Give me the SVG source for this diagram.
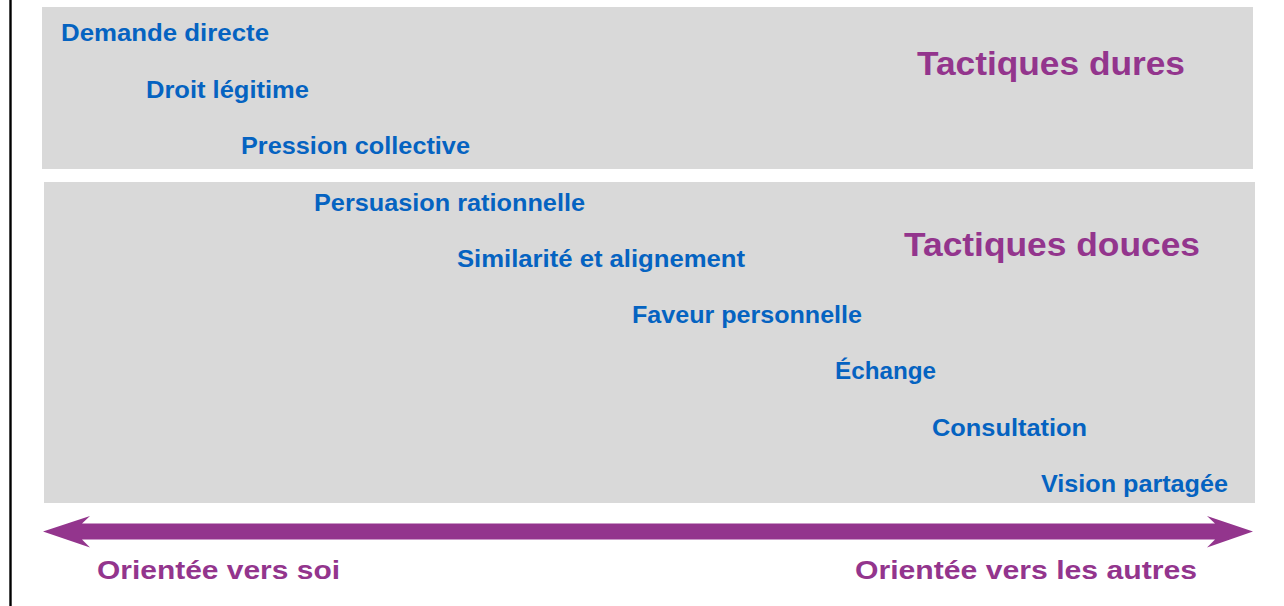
<svg xmlns="http://www.w3.org/2000/svg" width="1284" height="606" viewBox="0 0 1284 606">
  <style>
    .band { fill: #d9d9d9; }
    .tactic { font-family: "Liberation Sans", Arial, sans-serif; font-weight: bold; font-size: 24px; fill: #0563c1; }
    .group { font-family: "Liberation Sans", Arial, sans-serif; font-weight: bold; font-size: 33px; fill: #93358d; }
    .pole { font-family: "Liberation Sans", Arial, sans-serif; font-weight: bold; font-size: 25px; fill: #93358d; }
  </style>

  <rect x="0" y="0" width="1284" height="606" fill="#ffffff"/>

  <!-- left border line -->
  <rect x="9.3" y="0" width="2.4" height="606" fill="#000000"/>

  <!-- hard tactics band -->
  <g id="hard-tactics">
    <rect class="band" x="42" y="7" width="1211" height="162"/>
    <text class="group" x="917" y="75" textLength="268" lengthAdjust="spacingAndGlyphs">Tactiques dures</text>
  </g>

  <!-- soft tactics band -->
  <g id="soft-tactics">
    <rect class="band" x="44" y="182" width="1211" height="321"/>
    <text class="group" x="904" y="256" textLength="296" lengthAdjust="spacingAndGlyphs">Tactiques douces</text>
  </g>

  <!-- individual tactics, staircase from self-oriented to other-oriented -->
  <g id="tactic-demande"><text class="tactic" x="61" y="41" textLength="208" lengthAdjust="spacingAndGlyphs">Demande directe</text></g>
  <g id="tactic-droit"><text class="tactic" x="146" y="98" textLength="163" lengthAdjust="spacingAndGlyphs">Droit légitime</text></g>
  <g id="tactic-pression"><text class="tactic" x="241" y="154" textLength="229" lengthAdjust="spacingAndGlyphs">Pression collective</text></g>
  <g id="tactic-persuasion"><text class="tactic" x="314" y="211" textLength="271" lengthAdjust="spacingAndGlyphs">Persuasion rationnelle</text></g>
  <g id="tactic-similarite"><text class="tactic" x="457" y="267" textLength="288" lengthAdjust="spacingAndGlyphs">Similarité et alignement</text></g>
  <g id="tactic-faveur"><text class="tactic" x="632" y="323" textLength="230" lengthAdjust="spacingAndGlyphs">Faveur personnelle</text></g>
  <g id="tactic-echange"><text class="tactic" x="835" y="379" textLength="101" lengthAdjust="spacingAndGlyphs">Échange</text></g>
  <g id="tactic-consultation"><text class="tactic" x="932" y="436" textLength="155" lengthAdjust="spacingAndGlyphs">Consultation</text></g>
  <g id="tactic-vision"><text class="tactic" x="1041" y="492" textLength="187" lengthAdjust="spacingAndGlyphs">Vision partagée</text></g>

  <!-- double-headed orientation axis -->
  <g id="connectors">
    <path fill="#93358d" d="M43,531.5 L90,516 L82,523.5 L1215,523.5 L1207,516 L1253,531.5 L1207,547.5 L1215,539.5 L82,539.5 L90,547.5 Z"/>
  </g>

  <g id="pole-self">
    <text class="pole" x="97" y="579" textLength="243" lengthAdjust="spacingAndGlyphs">Orientée vers soi</text>
  </g>
  <g id="pole-others">
    <text class="pole" x="855" y="579" textLength="342" lengthAdjust="spacingAndGlyphs">Orientée vers les autres</text>
  </g>
</svg>
